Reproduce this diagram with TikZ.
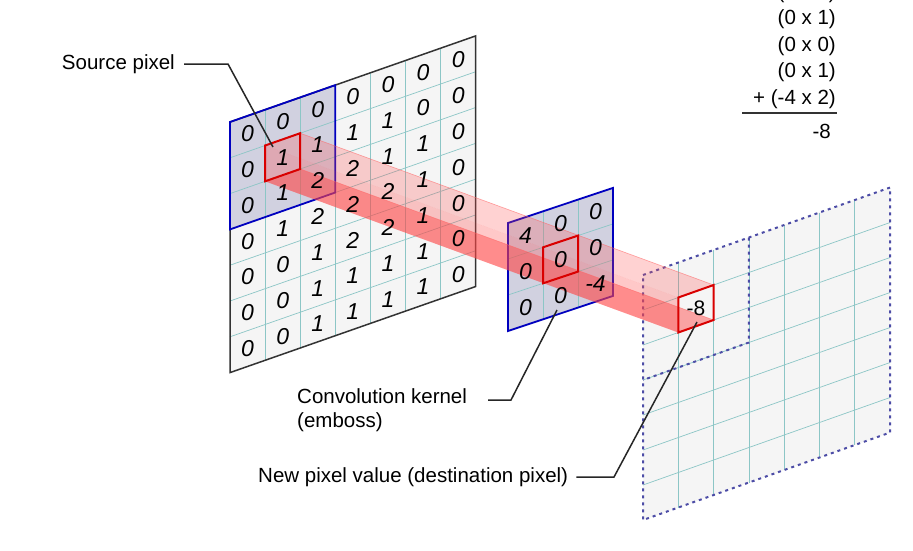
\documentclass[tikz,border=0pt]{standalone}
\usepackage{fontspec}
\setmainfont{Liberation Sans}
\begin{document}
\begin{tikzpicture}[x=1pt,y=-1pt,
  lbl/.style={font=\fontsize{20.5}{24}\selectfont, inner sep=1pt},
  num/.style={font=\fontsize{23}{24}\selectfont\itshape, inner sep=0pt},
  gl/.style={draw=teal!45, line width=0.7pt},
  lead/.style={draw=black!85, line width=1.5pt},
  blu/.style={draw=blue!60!black!80, line width=0.8pt},
  redbox/.style={draw=red!85!black, line width=2pt}]
\path[use as bounding box] (0,0) rectangle (913,550);
\clip (0,0) rectangle (913,550);
\fill[white] (0,0) rectangle (913,550);
% ---------- source grid ----------
\def\SP(#1,#2){({230+35.1*(#1)},{122-12.3*(#1)+35.8*(#2)})}
\fill[black!4] \SP(0,0) -- \SP(7,0) -- \SP(7,7) -- \SP(0,7) -- cycle;
\fill[blue!20!gray!30] \SP(0,0) -- \SP(3,0) -- \SP(3,3) -- \SP(0,3) -- cycle;
\foreach \i in {1,...,6}{
  \draw[gl] \SP(\i,0) -- \SP(\i,7);
  \draw[gl] \SP(0,\i) -- \SP(7,\i);}
\draw[draw=black!80, line width=1.5pt] \SP(0,0) -- \SP(7,0) -- \SP(7,7) -- \SP(0,7) -- cycle;
% ---------- kernel ----------
\def\KP(#1,#2){({508+35*(#1)},{223-11.7*(#1)+36*(#2)})}
% ---------- destination ----------
\def\DP(#1,#2){({643+35.3*(#1)},{275-12.5*(#1)+35*(#2)})}
\fill[black!4] \DP(0,0) -- \DP(7,0) -- \DP(7,7) -- \DP(0,7) -- cycle;
\foreach \i in {1,...,6}{
  \draw[gl] \DP(\i,0) -- \DP(\i,7);
  \draw[gl] \DP(0,\i) -- \DP(7,\i);}
\draw[draw=blue!50!black!70, line width=2pt, dash pattern=on 3pt off 4pt] \DP(0,0) -- \DP(7,0) -- \DP(7,7) -- \DP(0,7) -- cycle;
\draw[draw=blue!50!black!70, line width=2pt, dash pattern=on 3pt off 4pt] \DP(3,0) -- \DP(3,3) -- \DP(0,3);
% blue projection lines
\coordinate (s1) at \SP(3,0); \coordinate (k1) at \KP(3,0); \coordinate (d1) at \DP(3,0);
\coordinate (s2) at \SP(0,3); \coordinate (k2) at \KP(0,3); \coordinate (d2) at \DP(0,3);
\draw[blu] (s1) -- (k1) -- (d1);
\draw[blu] (s2) -- (k2) -- (d2);
% kernel plate
\fill[blue!20!gray!30] \KP(0,0) -- \KP(3,0) -- \KP(3,3) -- \KP(0,3) -- cycle;
\foreach \i in {1,2}{
  \draw[gl] \KP(\i,0) -- \KP(\i,3);
  \draw[gl] \KP(0,\i) -- \KP(3,\i);}
\draw[draw=blue!75!black, line width=1.8pt] \KP(0,0) -- \KP(3,0) -- \KP(3,3) -- \KP(0,3) -- cycle;
\draw[draw=blue!75!black, line width=1.8pt] \SP(0,0) -- \SP(3,0) -- \SP(3,3) -- \SP(0,3) -- cycle;
% ---------- beam ----------
\fill[red!70, opacity=0.25] \SP(1,1) -- \SP(2,1) -- \DP(2,1) -- \DP(1,1) -- cycle;
\fill[red!75, opacity=0.45] \SP(1,2) -- \SP(2,2) -- \DP(2,2) -- \DP(1,2) -- cycle;
\fill[red!70, opacity=0.3] \SP(1,1) -- \SP(1,2) -- \DP(1,2) -- \DP(1,1) -- cycle;
\draw[red!60, opacity=0.6, line width=0.6pt] \SP(2,2) -- \DP(2,2);
\draw[red!60, opacity=0.6, line width=0.6pt] \SP(2,1) -- \DP(2,1);
% red boxes
\draw[redbox] \SP(1,1) -- \SP(2,1) -- \SP(2,2) -- \SP(1,2) -- cycle;
\draw[redbox] \KP(1,1) -- \KP(2,1) -- \KP(2,2) -- \KP(1,2) -- cycle;
\draw[redbox] \DP(1,1) -- \DP(2,1) -- \DP(2,2) -- \DP(1,2) -- cycle;
% numbers
\foreach \row [count=\r from 0] in {{0,0,0,0,0,0,0},{0,1,1,1,1,0,0},{0,1,2,2,1,1,0},{0,1,2,2,2,1,0},{0,0,1,2,2,1,0},{0,0,1,1,1,1,0},{0,0,1,1,1,1,0}}{
  \foreach \v [count=\c from 0] in \row {
    \node[num] (n\r\c) at \SP(\c+0.5,\r+0.5) {\v};}}
\foreach \row [count=\r from 0] in {{4,0,0},{0,0,0},{0,0,-4}}{
  \foreach \v [count=\c from 0] in \row {
    \node[num] (k\r\c) at \KP(\c+0.5,\r+0.5) {\v};}}
\node[num, font=\fontsize{21}{22}\selectfont] (dst) at \DP(1.5,1.5) {-8};
% ---------- labels ----------
\node[lbl, anchor=east] (src) at (176,64) {Source pixel};
\coordinate (srcA) at (228,64);
\coordinate (srcB) at (273,147);
\draw[lead] (src.east) ++(8,0) -- (srcA) -- (srcB);
\node[lbl, anchor=north west, align=left] (ker) at (296,387) {Convolution kernel\\(emboss)};
\coordinate (kerA) at (511,400);
\coordinate (kerB) at (557,310);
\draw[lead] (488,400) -- (kerA) -- (kerB);
\node[lbl, anchor=west] (newp) at (257,477) {New pixel value (destination pixel)};
\coordinate (newA) at (614,477);
\coordinate (newB) at (697,322);
\draw[lead] (newp.east) ++(7,0) -- (newA) -- (newB);
% ---------- sum ----------
\foreach \t [count=\i from 0] in {{(0 x 1)},{(0 x 1)},{(0 x 0)},{(0 x 1)},{+ (-4 x 2)}}{
  \node[lbl, anchor=east] (sum\i) at (837,{-7+26.5*\i}) {\t};}
\draw[line width=1.3pt, black!80] (742,113) -- (837,113);
\node[lbl, anchor=east] (res) at (832,131) {-8};
\end{tikzpicture}
\end{document}
